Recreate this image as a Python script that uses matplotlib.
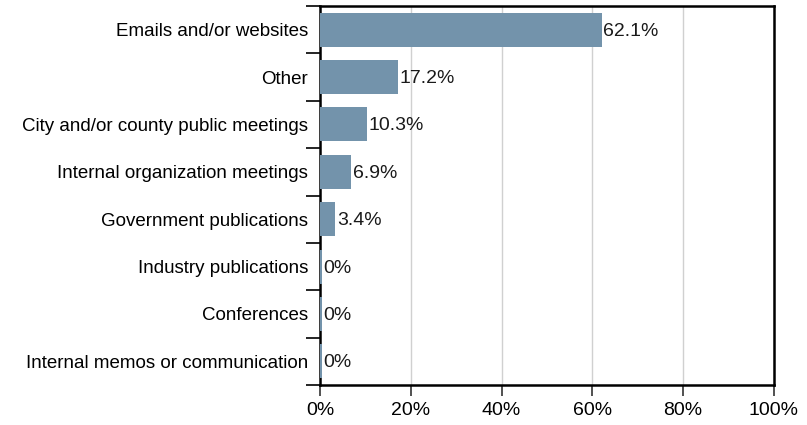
import numpy as np
import matplotlib.pyplot as plt
from matplotlib.ticker import FixedLocator

# data, top to bottom
categories = ['Emails and/or websites', 'Other',
              'City and/or county public meetings',
              'Internal organization meetings', 'Government publications',
              'Industry publications', 'Conferences',
              'Internal memos or communication']
shares = [62.1, 17.2, 10.3, 6.9, 3.4, 0, 0, 0]
value_labels = ['62.1%', '17.2%', '10.3%', '6.9%', '3.4%', '0%', '0%', '0%']
x_ticks = [0, 20, 40, 60, 80, 100]

plt.rcParams['font.family'] = ['Liberation Sans', 'DejaVu Sans']

fig = plt.figure(figsize=(8.07, 4.25), dpi=100)
ax = fig.add_axes([0.3965, 0.094, 0.5625, 0.892])

y = np.arange(len(categories))
# zero-valued rows still show a hairline bar in the original
widths = [max(v, 0.5) for v in shares]
ax.barh(y, widths, height=0.72, color='#7393ab', zorder=3)

for yi, v, lab in zip(y, widths, value_labels):
    ax.text(v + 0.3, yi + 0.03, lab, va='center', ha='left', fontsize=14,
            color='#1a1a1a', zorder=4)

ax.set_xlim(0, 100)
ax.set_ylim(len(categories) - 0.5, -0.5)
ax.set_xticks(x_ticks)
ax.set_xticklabels([f'{t}%' for t in x_ticks], fontsize=14)
ax.set_yticks(y)
ax.set_yticklabels(categories, fontsize=13.5)
ax.tick_params(axis='y', which='major', length=0, pad=8.5)
ax.yaxis.set_minor_locator(FixedLocator(np.arange(-0.5, len(categories), 1)))
ax.tick_params(axis='y', which='minor', length=10, width=1.2, color='black')
ax.tick_params(axis='x', length=8, width=1.2, color='#333333', pad=4)

ax.grid(axis='x', color='#d0d0d0', linewidth=1, zorder=0)
for s in ax.spines.values():
    s.set_linewidth(1.8)
    s.set_color('black')

fig.savefig('out.png', dpi=100)
